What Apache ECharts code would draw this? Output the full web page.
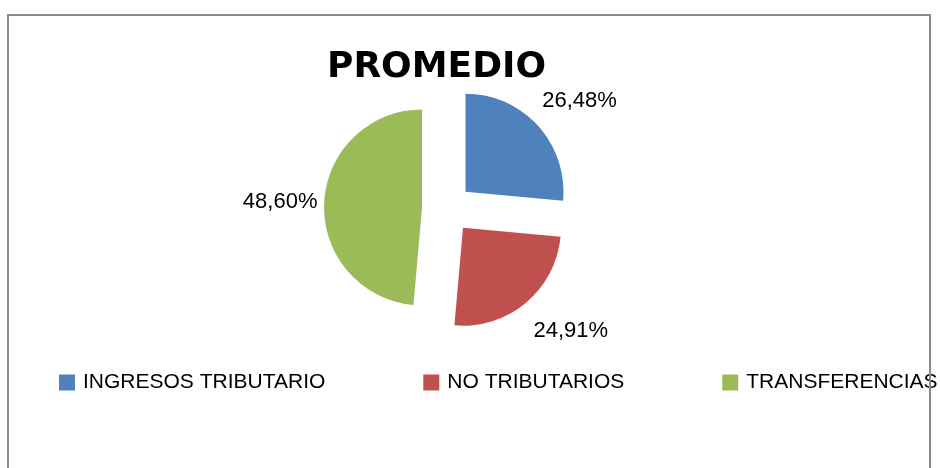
<!DOCTYPE html>
<html>
<head>
<meta charset="utf-8">
<script src="https://cdn.jsdelivr.net/npm/echarts@6/dist/echarts.min.js"></script>
<style>
html,body{margin:0;padding:0;background:#fff;}
#chart{width:940px;height:468px;}
</style>
</head>
<body>
<div id="chart"></div>
<script>
const titleText = 'PROMEDIO';
const categories = ['INGRESOS TRIBUTARIO', 'NO TRIBUTARIOS', 'TRANSFERENCIAS (SGP)'];
const values = [26.48, 24.91, 48.60];
const colors = ['#4F81BD', '#C0504D', '#9BBB59'];
// label leader second-segment lengths (layout only)
const labelGap = [10, 17, 3];

const chart = echarts.init(document.getElementById('chart'), null, {renderer: 'canvas'});
const pieData = categories.map((name, i) => ({
  name: name,
  value: values[i],
  selected: true,
  itemStyle: {color: colors[i]},
  labelLine: {length2: labelGap[i]}
}));

chart.setOption({
  animation: false,
  backgroundColor: '#ffffff',
  title: {
    text: titleText,
    left: 322,
    top: 45,
    textStyle: {fontFamily: 'DejaVu Sans', fontWeight: 'bold', fontSize: 36, color: '#000'}
  },
  legend: {
    data: categories,
    left: 54,
    top: 367,
    width: 3000,
    orient: 'horizontal',
    icon: 'rect',
    itemWidth: 16,
    itemHeight: 16,
    itemGap: 98,
    selectedMode: false,
    textStyle: {fontFamily: 'Liberation Sans', fontSize: 21, color: '#000', padding: [0, 0, 0, 3]}
  },
  graphic: [{
    type: 'rect',
    silent: true,
    z: 100,
    shape: {x: 8, y: 15, width: 922, height: 500},
    style: {fill: 'none', stroke: '#8c8c8c', lineWidth: 2}
  }],
  series: [{
    type: 'pie',
    center: [447, 208.5],
    radius: [0, 98],
    startAngle: 90,
    clockwise: true,
    selectedMode: 'multiple',
    selectedOffset: 25,
    avoidLabelOverlap: false,
    emphasis: {disabled: true},
    select: {itemStyle: {borderWidth: 0}},
    itemStyle: {borderWidth: 0},
    label: {
      show: true,
      position: 'outside',
      alignTo: 'none',
      fontFamily: 'Liberation Sans',
      fontSize: 22,
      color: '#000',
      formatter: p => p.value.toFixed(2).replace('.', ',') + '%'
    },
    labelLine: {show: false, length: 36, length2: 10},
    labelLayout: {align: 'center'},
    data: pieData
  }]
});
</script>
</body>
</html>
